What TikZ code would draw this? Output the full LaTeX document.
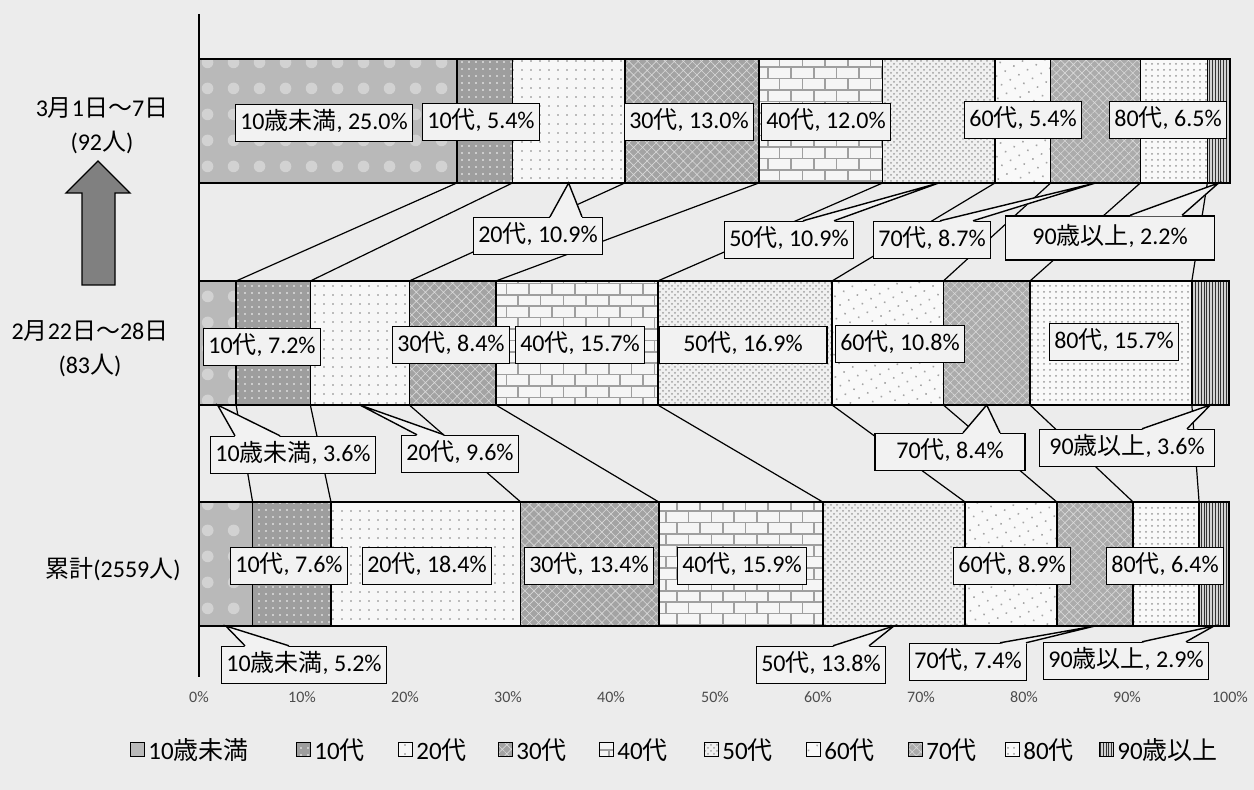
\documentclass[tikz,border=0pt]{standalone}
\usepackage{fontspec}
\setmainfont{Carlito}
\newfontfamily\jp{Noto Sans CJK JP}
\usepackage{tikz}
\usetikzlibrary{positioning,patterns,patterns.meta}

\definecolor{paper}{gray}{0.925}
\definecolor{boxfill}{gray}{0.95}

\begin{document}
\begin{tikzpicture}[x=0.5pt,y=-0.5pt]
\tikzstyle{seg}=[draw,line width=0.8pt,inner sep=0pt,outer sep=0pt,minimum height=62pt]
\tikzstyle{s0}=[preaction={fill=gray!55},pattern={Dots[distance=13pt,radius=3pt]},pattern color=white!65!gray]
\tikzstyle{s1}=[preaction={fill=gray!76},pattern={Dots[distance=3.5pt,radius=0.4pt]},pattern color=white]
\tikzstyle{s2}=[preaction={fill=gray!6},pattern={Dots[distance=4.5pt,radius=0.45pt]},pattern color=gray]
\tikzstyle{s3}=[preaction={fill=gray!72},pattern={Hatch[angle=45,distance=3.2pt,line width=0.3pt]},pattern color=white!70!gray]
\tikzstyle{s4}=[preaction={fill=white!92!gray},pattern=bricks,pattern color=gray!75]
\tikzstyle{s5}=[preaction={fill=gray!12},pattern=crosshatch dots,pattern color=gray!75]
\tikzstyle{s6}=[preaction={fill=gray!5},pattern={Dots[distance=5pt,radius=0.55pt,angle=30]},pattern color=gray!70]
\tikzstyle{s7}=[preaction={fill=gray!66},pattern={Hatch[angle=45,distance=3pt,line width=0.3pt]},pattern color=white!70!gray]
\tikzstyle{s8}=[preaction={fill=white!95!gray},pattern=dots,pattern color=gray!80]
\tikzstyle{s9}=[preaction={fill=gray!35},pattern={Lines[angle=90,distance=1.4pt,line width=0.5pt]},pattern color=black!80]
\tikzstyle{serie}=[line width=0.6pt]
\tikzstyle{lbl}=[draw,line width=0.7pt,fill=boxfill,inner xsep=2.5pt,inner ysep=3.5pt,text height=9pt,text depth=2.5pt,font=\fontsize{12}{14}\selectfont]
\tikzstyle{wedge}=[fill=boxfill]
\tikzstyle{pointer}=[line width=0.7pt,line join=miter]
\tikzstyle{side}=[align=center,font=\fontsize{12}{17}\selectfont]
\tikzstyle{ticklbl}=[font=\fontsize{8}{9}\selectfont,text=black!70]
\tikzstyle{legbox}=[draw,line width=0.5pt,inner sep=0pt,outer sep=0pt,minimum size=7pt]
\tikzstyle{legtxt}=[font=\fontsize{12.5}{14}\selectfont,inner sep=0pt]

\fill[paper] (0,0) rectangle (1254,790);
\useasboundingbox (0,0) rectangle (1254,790);

% row titles and arrow
\node[side] (wk1) at (102,126) {3{\jp 月}1{\jp 日～}7{\jp 日}\\(92{\jp 人})};
\node[side] (wk2) at (90,349) {2{\jp 月}22{\jp 日～}28{\jp 日}\\(83{\jp 人})};
\node[side] (total) at (113,569) {{\jp 累計}(2559{\jp 人})};
\draw[fill=black!50,line width=0.7pt] (82,285) -- (82,193) -- (66,193) -- (98,161) -- (130,193) -- (115,193) -- (115,285) -- cycle;

% bar 1: 3/1-3/7
\node[seg,s0,minimum width=25.0*5.155pt,anchor=west] (a0) at (199,121) {};
\node[seg,s1,minimum width=5.4*5.155pt,right=0pt of a0] (a1) {};
\node[seg,s2,minimum width=10.9*5.155pt,right=0pt of a1] (a2) {};
\node[seg,s3,minimum width=13.0*5.155pt,right=0pt of a2] (a3) {};
\node[seg,s4,minimum width=12.0*5.155pt,right=0pt of a3] (a4) {};
\node[seg,s5,minimum width=10.9*5.155pt,right=0pt of a4] (a5) {};
\node[seg,s6,minimum width=5.4*5.155pt,right=0pt of a5] (a6) {};
\node[seg,s7,minimum width=8.7*5.155pt,right=0pt of a6] (a7) {};
\node[seg,s8,minimum width=6.5*5.155pt,right=0pt of a7] (a8) {};
\node[seg,s9,minimum width=2.2*5.155pt,right=0pt of a8] (a9) {};

% bar 2: 2/22-2/28
\node[seg,s0,minimum width=3.6*5.155pt,anchor=west] (b0) at (199,343) {};
\node[seg,s1,minimum width=7.2*5.155pt,right=0pt of b0] (b1) {};
\node[seg,s2,minimum width=9.6*5.155pt,right=0pt of b1] (b2) {};
\node[seg,s3,minimum width=8.4*5.155pt,right=0pt of b2] (b3) {};
\node[seg,s4,minimum width=15.7*5.155pt,right=0pt of b3] (b4) {};
\node[seg,s5,minimum width=16.9*5.155pt,right=0pt of b4] (b5) {};
\node[seg,s6,minimum width=10.8*5.155pt,right=0pt of b5] (b6) {};
\node[seg,s7,minimum width=8.4*5.155pt,right=0pt of b6] (b7) {};
\node[seg,s8,minimum width=15.7*5.155pt,right=0pt of b7] (b8) {};
\node[seg,s9,minimum width=3.6*5.155pt,right=0pt of b8] (b9) {};

% bar 3: total
\node[seg,s0,minimum width=5.2*5.155pt,anchor=west] (c0) at (199,564) {};
\node[seg,s1,minimum width=7.6*5.155pt,right=0pt of c0] (c1) {};
\node[seg,s2,minimum width=18.4*5.155pt,right=0pt of c1] (c2) {};
\node[seg,s3,minimum width=13.4*5.155pt,right=0pt of c2] (c3) {};
\node[seg,s4,minimum width=15.9*5.155pt,right=0pt of c3] (c4) {};
\node[seg,s5,minimum width=13.8*5.155pt,right=0pt of c4] (c5) {};
\node[seg,s6,minimum width=8.9*5.155pt,right=0pt of c5] (c6) {};
\node[seg,s7,minimum width=7.4*5.155pt,right=0pt of c6] (c7) {};
\node[seg,s8,minimum width=6.4*5.155pt,right=0pt of c7] (c8) {};
\node[seg,s9,minimum width=2.9*5.155pt,right=0pt of c8] (c9) {};

\draw[line width=0.8pt] (199,14) -- (199,677);

% series lines
\draw[serie] (a0.south east) -- (b0.north east);
\draw[serie] (a1.south east) -- (b1.north east);
\draw[serie] (a2.south east) -- (b2.north east);
\draw[serie] (a3.south east) -- (b3.north east);
\draw[serie] (a4.south east) -- (b4.north east);
\draw[serie] (a5.south east) -- (b5.north east);
\draw[serie] (a6.south east) -- (b6.north east);
\draw[serie] (a7.south east) -- (b7.north east);
\draw[serie] (a8.south east) -- (b8.north east);
\draw[serie] (b0.south east) -- (c0.north east);
\draw[serie] (b1.south east) -- (c1.north east);
\draw[serie] (b2.south east) -- (c2.north east);
\draw[serie] (b3.south east) -- (c3.north east);
\draw[serie] (b4.south east) -- (c4.north east);
\draw[serie] (b5.south east) -- (c5.north east);
\draw[serie] (b6.south east) -- (c6.north east);
\draw[serie] (b7.south east) -- (c7.north east);
\draw[serie] (b8.south east) -- (c8.north east);

% labels in the bars
\node[lbl] (la0) at (324,123) {10{\jp 歳未満}, 25.0\%};
\node[lbl] (la1) at (481,122) {10{\jp 代}, 5.4\%};
\node[lbl] (la3) at (689,122) {30{\jp 代}, 13.0\%};
\node[lbl] (la4) at (826,122) {40{\jp 代}, 12.0\%};
\node[lbl] (la6) at (1023,120) {60{\jp 代}, 5.4\%};
\node[lbl] (la8) at (1168,120) {80{\jp 代}, 6.5\%};
\node[lbl] (lb1) at (262,347) {10{\jp 代}, 7.2\%};
\node[lbl] (lb3) at (451,345) {30{\jp 代}, 8.4\%};
\node[lbl] (lb4) at (580,345) {40{\jp 代}, 15.7\%};
\node[lbl,minimum width=84pt] (lb5) at (743,345) {50{\jp 代}, 16.9\%};
\node[lbl] (lb6) at (900,344) {60{\jp 代}, 10.8\%};
\node[lbl] (lb8) at (1114,342) {80{\jp 代}, 15.7\%};
\node[lbl] (lc1) at (289,566) {10{\jp 代}, 7.6\%};
\node[lbl] (lc2) at (427,566) {20{\jp 代}, 18.4\%};
\node[lbl] (lc3) at (589,566) {30{\jp 代}, 13.4\%};
\node[lbl] (lc4) at (742,566) {40{\jp 代}, 15.9\%};
\node[lbl] (lc6) at (1012,566) {60{\jp 代}, 8.9\%};
\node[lbl] (lc8) at (1165,566) {80{\jp 代}, 6.4\%};

% callouts under the bars
\node[lbl] (la2) at (538,236) {20{\jp 代}, 10.9\%};
\fill[wedge] ([xshift=6pt,yshift=-0.5pt]la2.north) -- (a2.south) -- ([xshift=22pt,yshift=-0.5pt]la2.north) -- cycle;
\draw[pointer] ([xshift=6pt]la2.north) -- (a2.south) -- ([xshift=22pt]la2.north);
\node[lbl] (la5) at (789,240) {50{\jp 代}, 10.9\%};
\fill[wedge] ([xshift=7pt,yshift=-0.5pt]la5.north) -- (a5.south) -- ([xshift=22.5pt,yshift=-0.5pt]la5.north) -- cycle;
\draw[pointer] ([xshift=7pt]la5.north) -- (a5.south) -- ([xshift=22.5pt]la5.north);
\node[lbl] (la7) at (932,240) {70{\jp 代}, 8.7\%};
\fill[wedge] ([xshift=4pt,yshift=-0.5pt]la7.north) -- (a7.south) -- ([xshift=20.5pt,yshift=-0.5pt]la7.north) -- cycle;
\draw[pointer] ([xshift=4pt]la7.north) -- (a7.south) -- ([xshift=20.5pt]la7.north);
\node[lbl,minimum width=104.5pt,minimum height=22pt] (la9) at (1110,238) {90{\jp 歳以上}, 2.2\%};
\fill[wedge] ([xshift=10pt,yshift=-0.5pt]la9.north) -- (a9.south) -- ([xshift=36pt,yshift=-0.5pt]la9.north) -- cycle;
\draw[pointer] ([xshift=10pt]la9.north) -- (a9.south) -- ([xshift=36pt]la9.north);

\node[lbl] (lb0) at (293,455) {10{\jp 歳未満}, 3.6\%};
\fill[wedge] ([xshift=-29pt,yshift=-0.5pt]lb0.north) -- (b0.south) -- ([xshift=-6.5pt,yshift=-0.5pt]lb0.north) -- cycle;
\draw[pointer] ([xshift=-29pt]lb0.north) -- (b0.south) -- ([xshift=-6.5pt]lb0.north);
\node[lbl] (lb2) at (460,454) {20{\jp 代}, 9.6\%};
\fill[wedge] ([xshift=-21.5pt,yshift=-0.5pt]lb2.north) -- (b2.south) -- ([xshift=-8pt,yshift=-0.5pt]lb2.north) -- cycle;
\draw[pointer] ([xshift=-21.5pt]lb2.north) -- (b2.south) -- ([xshift=-8pt]lb2.north);
\node[lbl,minimum width=75pt] (lb7) at (950,452) {70{\jp 代}, 8.4\%};
\fill[wedge] ([xshift=6.5pt,yshift=-0.5pt]lb7.north) -- (b7.south) -- ([xshift=25pt,yshift=-0.5pt]lb7.north) -- cycle;
\draw[pointer] ([xshift=6.5pt]lb7.north) -- (b7.south) -- ([xshift=25pt]lb7.north);
\node[lbl,minimum width=87.5pt] (lb9) at (1127,448) {90{\jp 歳以上}, 3.6\%};
\fill[wedge] ([xshift=7.5pt,yshift=-0.5pt]lb9.north) -- (b9.south) -- ([xshift=30pt,yshift=-0.5pt]lb9.north) -- cycle;
\draw[pointer] ([xshift=7.5pt]lb9.north) -- (b9.south) -- ([xshift=30pt]lb9.north);

\node[lbl] (lc0) at (304,665) {10{\jp 歳未満}, 5.2\%};
\fill[wedge] ([xshift=-29.5pt,yshift=-0.5pt]lc0.north) -- (c0.south) -- ([xshift=-7.5pt,yshift=-0.5pt]lc0.north) -- cycle;
\draw[pointer] ([xshift=-29.5pt]lc0.north) -- (c0.south) -- ([xshift=-7.5pt]lc0.north);
\node[lbl] (lc5) at (821,665) {50{\jp 代}, 13.8\%};
\fill[wedge] ([xshift=6pt,yshift=-0.5pt]lc5.north) -- (c5.south) -- ([xshift=24pt,yshift=-0.5pt]lc5.north) -- cycle;
\draw[pointer] ([xshift=6pt]lc5.north) -- (c5.south) -- ([xshift=24pt]lc5.north);
\node[lbl] (lc7) at (968,662) {70{\jp 代}, 7.4\%};
\fill[wedge] ([xshift=16pt,yshift=-0.5pt]lc7.north) -- (c7.south) -- ([xshift=29pt,yshift=-0.5pt]lc7.north) -- cycle;
\draw[pointer] ([xshift=16pt]lc7.north) -- (c7.south) -- ([xshift=29pt]lc7.north);
\node[lbl] (lc9) at (1126,661) {90{\jp 歳以上}, 2.9\%};
\fill[wedge] ([xshift=8pt,yshift=-0.5pt]lc9.north) -- (c9.south) -- ([xshift=30pt,yshift=-0.5pt]lc9.north) -- cycle;
\draw[pointer] ([xshift=8pt]lc9.north) -- (c9.south) -- ([xshift=30pt]lc9.north);

% axis labels
\node[ticklbl] (t0) at (199,697) {0\%};
\node[ticklbl] (t10) at (302,697) {10\%};
\node[ticklbl] (t20) at (405,697) {20\%};
\node[ticklbl] (t30) at (508,697) {30\%};
\node[ticklbl] (t40) at (611,697) {40\%};
\node[ticklbl] (t50) at (715,697) {50\%};
\node[ticklbl] (t60) at (818,697) {60\%};
\node[ticklbl] (t70) at (921,697) {70\%};
\node[ticklbl] (t80) at (1024,697) {80\%};
\node[ticklbl] (t90) at (1127,697) {90\%};
\node[ticklbl] (t100) at (1230,697) {100\%};

% legend
\node[legbox,s0] (k0) at (137,750) {};
\node[legtxt,right=2pt of k0] (n0) {10{\jp 歳未満}};
\node[legbox,s1] (k1) at (303,750) {};
\node[legtxt,right=2pt of k1] (n1) {10{\jp 代}};
\node[legbox,s2] (k2) at (405,750) {};
\node[legtxt,right=2pt of k2] (n2) {20{\jp 代}};
\node[legbox,s3] (k3) at (505,750) {};
\node[legtxt,right=2pt of k3] (n3) {30{\jp 代}};
\node[legbox,s4] (k4) at (606,750) {};
\node[legtxt,right=2pt of k4] (n4) {40{\jp 代}};
\node[legbox,s5] (k5) at (711,750) {};
\node[legtxt,right=2pt of k5] (n5) {50{\jp 代}};
\node[legbox,s6] (k6) at (813,750) {};
\node[legtxt,right=2pt of k6] (n6) {60{\jp 代}};
\node[legbox,s7] (k7) at (915,750) {};
\node[legtxt,right=2pt of k7] (n7) {70{\jp 代}};
\node[legbox,s8] (k8) at (1012,750) {};
\node[legtxt,right=2pt of k8] (n8) {80{\jp 代}};
\node[legbox,s9] (k9) at (1106,750) {};
\node[legtxt,right=2pt of k9] (n9) {90{\jp 歳以上}};
\end{tikzpicture}
\end{document}
